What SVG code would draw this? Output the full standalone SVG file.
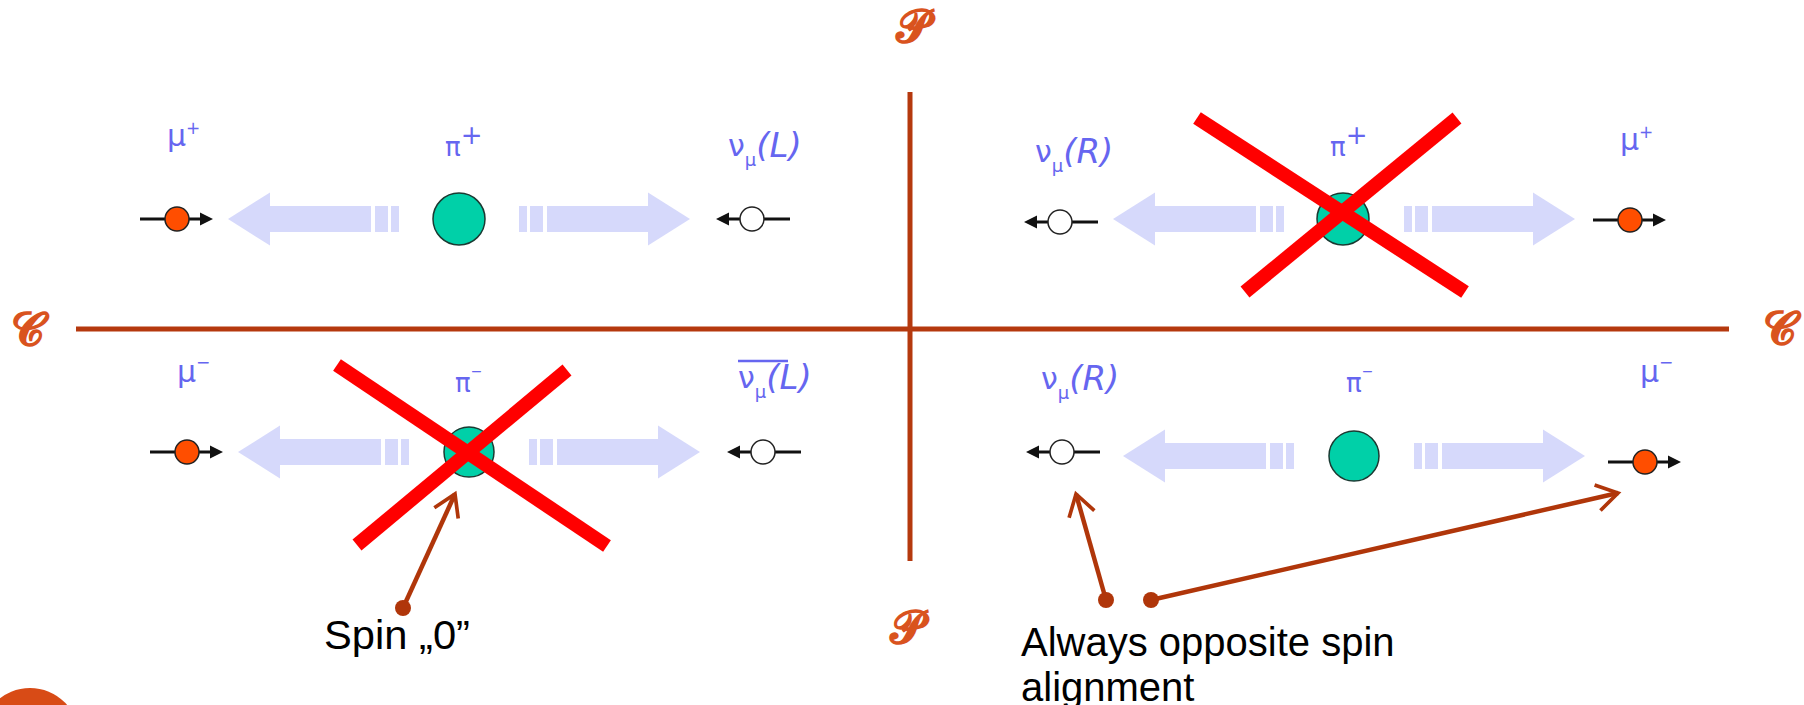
<svg xmlns="http://www.w3.org/2000/svg" width="1804" height="705" viewBox="0 0 1804 705">
<style>
.lbl{font-family:"DejaVu Sans",sans-serif;fill:#6666f0}
.it{font-family:"DejaVu Sans",sans-serif;font-style:italic;fill:#6666f0;font-size:34px}
.axis{stroke:#b5390e;stroke-width:5;fill:none}
.script{font-family:"DejaVu Sans","DejaVu Serif",serif;fill:#d9531e;font-size:46px;font-weight:bold}
.flow{fill:#d6d9fb}
.pion{fill:#00d0a8;stroke:#1b3a32;stroke-width:1.5}
.mu{fill:#ff4e00;stroke:#222;stroke-width:1.5}
.nu{fill:#fff;stroke:#222;stroke-width:1.5}
.spin{stroke:#111;stroke-width:3}
.cross{stroke:#ff0000;stroke-width:14;stroke-linecap:butt}
.note{stroke:#b0360a;stroke-width:4.5;fill:none}
.notedot{fill:#b0360a}
.txt{font-family:"Liberation Sans",Arial,sans-serif;font-size:40px;fill:#000}
</style>
<defs>
<g id="flows">
<rect x="-68" y="-13" width="8" height="26"/>
<rect x="-84" y="-13" width="13" height="26"/>
<rect x="-189" y="-13" width="101" height="26"/>
<polygon points="-189,-26.5 -231,0 -189,26.5"/>
<rect x="60" y="-13" width="8" height="26"/>
<rect x="71" y="-13" width="13" height="26"/>
<rect x="88" y="-13" width="101" height="26"/>
<polygon points="189,-26.5 231,0 189,26.5"/>
</g>
<g id="muR">
<line class="spin" x1="-37" y1="0" x2="25" y2="0"/>
<polygon points="23,-6.5 36,0 23,6.5" fill="#111"/>
<circle class="mu" r="12"/>
</g>
<g id="nuL">
<line class="spin" x1="-25" y1="0" x2="38" y2="0"/>
<polygon points="-23,-6.5 -36,0 -23,6.5" fill="#111"/>
<circle class="nu" r="12"/>
</g>
<marker id="open" viewBox="0 0 12 12" refX="10" refY="6" markerWidth="7" markerHeight="7" orient="auto" markerUnits="strokeWidth">
<polyline points="2,1 10,6 2,11" fill="none" stroke="#b0360a" stroke-width="1.4"/>
</marker>
</defs>

<g id="axes">
<line class="axis" x1="76" y1="329" x2="1729" y2="329"/>
<line class="axis" x1="910" y1="92" x2="910" y2="561"/>
<text class="script" x="912" y="42" text-anchor="middle">𝓟</text>
<text class="script" x="906" y="643" text-anchor="middle">𝓟</text>
<text class="script" x="27" y="345" text-anchor="middle">𝓒</text>
<text class="script" x="1779" y="344" text-anchor="middle">𝓒</text>
</g>

<g id="q-top-left">
<use href="#flows" class="flow" x="459" y="219"/>
<circle class="pion" cx="459" cy="219" r="26"/>
<use href="#muR" x="177" y="219"/>
<use href="#nuL" x="752" y="219"/>
<text class="lbl" x="167" y="146" font-size="30">μ<tspan font-size="17" dy="-12">+</tspan></text>
<text class="lbl" x="445" y="156" font-size="26">π<tspan font-size="26" dy="-12">+</tspan></text>
<text class="lbl" x="728" y="156" font-size="30">ν<tspan font-size="18" dy="10">μ</tspan><tspan class="it" dy="-9">(L)</tspan></text>
</g>

<g id="q-top-right">
<use href="#flows" class="flow" x="1344" y="219"/>
<circle class="pion" cx="1343" cy="219" r="26"/>
<use href="#nuL" x="1060" y="222"/>
<use href="#muR" x="1630" y="220"/>
<text class="lbl" x="1035" y="162" font-size="30">ν<tspan font-size="18" dy="10">μ</tspan><tspan class="it" dy="-9">(R)</tspan></text>
<text class="lbl" x="1330" y="156" font-size="26">π<tspan font-size="26" dy="-12">+</tspan></text>
<text class="lbl" x="1620" y="150" font-size="30">μ<tspan font-size="17" dy="-12">+</tspan></text>
<line class="cross" x1="1197" y1="118" x2="1465" y2="292"/>
<line class="cross" x1="1457" y1="118" x2="1245" y2="292"/>
</g>

<g id="q-bottom-left">
<use href="#flows" class="flow" x="469" y="452"/>
<circle class="pion" cx="469" cy="452" r="25"/>
<use href="#muR" x="187" y="452"/>
<use href="#nuL" x="763" y="452"/>
<text class="lbl" x="177" y="382" font-size="30">μ<tspan font-size="17" dy="-14">−</tspan></text>
<text class="lbl" x="455" y="392" font-size="26">π<tspan font-size="14" dy="-16">−</tspan></text>
<text class="lbl" x="738" y="388" font-size="30">ν<tspan font-size="18" dy="10">μ</tspan><tspan class="it" dy="-9">(L)</tspan></text>
<line x1="738" y1="361" x2="788" y2="361" stroke="#6666f0" stroke-width="2.5"/>
<line class="cross" x1="337" y1="365" x2="607" y2="546"/>
<line class="cross" x1="567" y1="370" x2="357" y2="545"/>
</g>

<g id="q-bottom-right">
<use href="#flows" class="flow" x="1354" y="456"/>
<circle class="pion" cx="1354" cy="456" r="25"/>
<use href="#nuL" x="1062" y="452"/>
<use href="#muR" x="1645" y="462"/>
<text class="lbl" x="1041" y="389" font-size="30">ν<tspan font-size="18" dy="10">μ</tspan><tspan class="it" dy="-9">(R)</tspan></text>
<text class="lbl" x="1346" y="392" font-size="26">π<tspan font-size="14" dy="-16">−</tspan></text>
<text class="lbl" x="1640" y="382" font-size="30">μ<tspan font-size="17" dy="-14">−</tspan></text>
</g>

<g id="connectors">
<line class="note" x1="403" y1="608" x2="455" y2="494" marker-end="url(#open)"/>
<circle class="notedot" cx="403" cy="608" r="8"/>
<line class="note" x1="1106" y1="600" x2="1076" y2="494" marker-end="url(#open)"/>
<circle class="notedot" cx="1106" cy="600" r="8"/>
<line class="note" x1="1151" y1="600" x2="1618" y2="493" marker-end="url(#open)"/>
<circle class="notedot" cx="1151" cy="600" r="8"/>
</g>

<g id="note-spin">
<text class="txt" x="324" y="649" textLength="146" lengthAdjust="spacingAndGlyphs">Spin „0”</text>
</g>
<g id="note-always">
<text class="txt" x="1021" y="656">Always opposite spin</text>
<text class="txt" x="1021" y="701">alignment</text>
</g>
<circle id="corner" cx="30" cy="737" r="49" fill="#d84b16"/>
</svg>
